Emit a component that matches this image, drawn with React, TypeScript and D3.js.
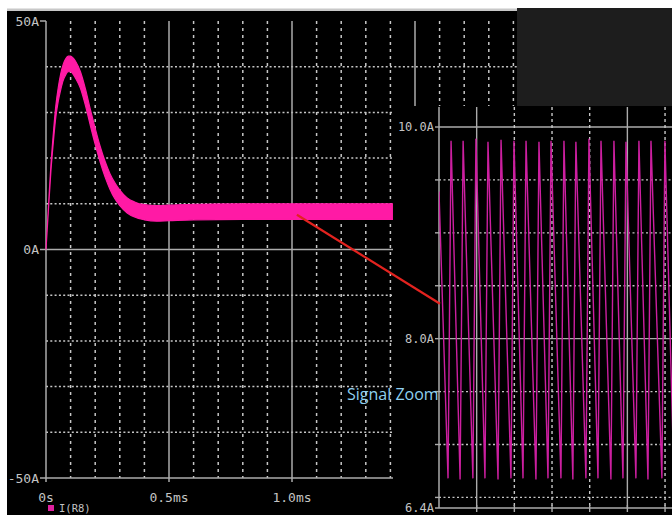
import React from "react";
import * as d3 from "d3";

// main trace: time (ms), upper and lower envelope of the ripple band (A)
const mainT = [0, 0.01, 0.02, 0.03, 0.04, 0.05, 0.06, 0.07, 0.08, 0.09, 0.1, 0.11, 0.12, 0.14, 0.16, 0.18, 0.2, 0.22, 0.24, 0.26, 0.28, 0.3, 0.33, 0.36, 0.4, 0.45, 0.5, 0.6, 0.8, 1.0, 1.2, 1.41];
const mainUpper = [0, 9.5, 18.5, 25.5, 31.5, 35.5, 38.5, 40.5, 41.7, 42.3, 42.3, 41.9, 41.2, 38.9, 35.2, 30.7, 26.5, 22.6, 19.3, 16.6, 14.6, 13.0, 11.3, 10.4, 9.8, 9.6, 9.7, 9.9, 10.0, 10.0, 10.0, 10.0];
const mainLower = [0, 8.8, 17.2, 23.6, 29.0, 32.5, 35.0, 37.0, 38.2, 38.9, 38.9, 38.4, 37.5, 35.3, 31.6, 27.2, 23.0, 19.2, 15.9, 13.2, 11.1, 9.6, 8.0, 7.1, 6.5, 6.2, 6.3, 6.5, 6.6, 6.6, 6.6, 6.6];

const mainYLabels = [50, 0, -50];
const mainXTicks = [0, 0.5, 1.0];
const mainXLabels = ["0s", "0.5ms", "1.0ms"];

// zoomed signal: peaks and valleys of the ripple
const insetStart = [0, 9.39];
const insetPeakT = [0.96, 1.92, 2.94, 3.9, 4.94, 5.97, 6.93, 7.96, 8.92, 9.95, 10.9, 11.94, 12.9, 13.93, 14.89, 15.92, 16.88, 17.99, 18.95];
const insetPeakV = [9.87, 9.87, 9.89, 9.86, 9.88, 9.87, 9.87, 9.86, 9.87, 9.87, 9.86, 9.89, 9.87, 9.87, 9.86, 9.87, 9.87, 9.87, 9.87];
const insetValleyT = [0.72, 1.68, 2.7, 3.66, 4.7, 5.73, 6.69, 7.72, 8.68, 9.71, 10.66, 11.7, 12.66, 13.69, 14.65, 15.68, 16.64, 17.75, 18.71];
const insetValleyV = [6.68, 6.67, 6.68, 6.68, 6.67, 6.68, 6.68, 6.67, 6.68, 6.68, 6.67, 6.68, 6.68, 6.67, 6.68, 6.68, 6.67, 6.68, 6.68];
const insetYLabels = [10.0, 8.0, 6.4];

const W = 672;
const H = 515;
const GRID = "#c6c6c6";
const AXIS = "#ababab";
const LABEL = "#c4c4c4";
const MONO = "'DejaVu Sans Mono', monospace";

export default function App() {
  const x = d3.scaleLinear().domain([0, 2.0]).range([46, 538]);
  const y = d3.scaleLinear().domain([-50, 50]).range([478, 21]);

  const xi = d3.scaleLinear().domain([0, 19]).range([439, 677.6]);
  const yi = d3.scaleLinear().domain([6.4, 10.0]).range([508, 127]);

  const band = d3
    .area<number>()
    .x((d, i) => x(mainT[i]))
    .y0((d, i) => y(mainLower[i]))
    .y1((d, i) => y(mainUpper[i]))
    .curve(d3.curveMonotoneX);

  const pts: [number, number][] = [[insetStart[0], insetStart[1]]];
  insetPeakT.forEach((t, i) => {
    pts.push([insetValleyT[i], insetValleyV[i]]);
    pts.push([t, insetPeakV[i]]);
  });
  const wave = d3
    .line<[number, number]>()
    .x(d => xi(d[0]))
    .y(d => yi(d[1]));

  const mainGridX = d3.range(1, 21).map(k => k / 10);
  const mainGridY = d3.range(-4, 5).map(k => k * 10);
  const insetGridX = d3.range(1, 7).map(k => k * 3);
  const insetGridY = d3.range(13, 21).map(k => k / 2);

  return (
    <svg width={W} height={H} style={{ position: "absolute", left: 0, top: 0, display: "block" }}>
      <defs>
        <clipPath id="insetClip">
          <rect x={439} y={106} width={W - 439} height={H - 106} />
        </clipPath>
      </defs>
      <rect x={0} y={0} width={W} height={H} fill="#ffffff" />
      <rect x={7} y={11} width={W - 7} height={H - 11} fill="#000000" />
      <rect x={7} y={8.5} width={510} height={2.5} fill="#c8c8c8" />

      {/* main grid */}
      {mainGridY.filter(v => v !== 0).map(v => (
        <line key={"gy" + v} x1={x(0)} x2={x(2.0)} y1={y(v)} y2={y(v)}
          stroke={GRID} strokeWidth={1.5} strokeDasharray="2,2.3" />
      ))}
      {mainGridX.map(t => {
        const major = Math.abs(t * 2 - Math.round(t * 2)) < 1e-6;
        return (
          <line key={"gx" + t} x1={x(t)} x2={x(t)} y1={y(50)} y2={y(-50)}
            stroke={major ? AXIS : GRID} strokeWidth={1.5}
            strokeDasharray={major ? undefined : "3,4"} />
        );
      })}
      <line x1={x(0)} x2={x(2.0)} y1={y(0)} y2={y(0)} stroke={AXIS} strokeWidth={1.5} />
      <line x1={x(0)} x2={x(2.0)} y1={y(-50)} y2={y(-50)} stroke={AXIS} strokeWidth={1.5} />
      <line x1={x(0)} x2={x(0)} y1={y(50)} y2={y(-50)} stroke={AXIS} strokeWidth={1.5} />
      {mainYLabels.map(v => (
        <g key={"yl" + v}>
          <line x1={x(0) - 6} x2={x(0)} y1={y(v)} y2={y(v)} stroke={AXIS} strokeWidth={1.5} />
          <text x={39} y={y(v)} dy="0.35em" textAnchor="end" fill={LABEL}
            fontFamily={MONO} fontSize={13}>{v === 0 ? "0A" : v + "A"}</text>
        </g>
      ))}
      {mainXTicks.map((t, i) => (
        <g key={"xl" + t}>
          <line x1={x(t)} x2={x(t)} y1={y(-50)} y2={y(-50) + 4} stroke={AXIS} strokeWidth={1.5} />
          <text x={x(t)} y={497} dy="0.35em" textAnchor="middle" fill={LABEL}
            fontFamily={MONO} fontSize={13}>{mainXLabels[i]}</text>
        </g>
      ))}

      {/* main trace */}
      <path d={band(mainT) || ""} fill="#ff1aa5" stroke="#ff1aa5" strokeWidth={1.2} />

      {/* legend */}
      <rect x={48} y={505} width={6} height={6} fill="#e0209f" />
      <text x={59} y={511.5} fill={LABEL} fontFamily={MONO} fontSize={10.5}>I(R8)</text>

      {/* zoomed inset */}
      <rect x={393} y={106} width={W - 393} height={H - 106} fill="#000000" />
      {insetGridY.map(v => {
        const solid = v === 10 || v === 8;
        return (
          <g key={"iy" + v}>
            <line x1={xi(0)} x2={W} y1={yi(v)} y2={yi(v)} stroke={solid ? AXIS : GRID}
              strokeWidth={1.4} strokeDasharray={solid ? undefined : "2,2.5"} />
            <line x1={xi(0) - 4} x2={xi(0)} y1={yi(v)} y2={yi(v)} stroke={AXIS} strokeWidth={1.4} />
          </g>
        );
      })}
      {insetGridX.map(t => {
        const solid = t === 3 || t === 15;
        return (
          <g key={"ix" + t}>
            <line x1={xi(t)} x2={xi(t)} y1={107} y2={yi(6.4)} stroke={solid ? AXIS : GRID}
              strokeWidth={1.4} strokeDasharray={solid ? undefined : "3,3"} />
            <line x1={xi(t)} x2={xi(t)} y1={yi(6.4) - 3} y2={yi(6.4) + 4} stroke={AXIS} strokeWidth={1.4} />
          </g>
        );
      })}
      <line x1={xi(0)} x2={xi(0)} y1={107} y2={yi(6.4)} stroke={AXIS} strokeWidth={1.5} />
      <line x1={xi(0) - 4} x2={W} y1={yi(6.4)} y2={yi(6.4)} stroke={AXIS} strokeWidth={1.5} />
      {insetYLabels.map(v => (
        <text key={"il" + v} x={434} y={yi(v)} dy="0.35em" textAnchor="end" fill={LABEL}
          fontFamily={MONO} fontSize={12}>{v.toFixed(1) + "A"}</text>
      ))}
      <path d={wave(pts) || ""} fill="none" stroke="#cc1fa0" strokeWidth={1.4}
        clipPath="url(#insetClip)" />

      {/* covered corner */}
      <rect x={517} y={8} width={W - 517} height={98} fill="#1d1d1d" />

      {/* zoom pointer */}
      <line x1={x(1.02)} y1={y(7.6)} x2={xi(0.08)} y2={yi(8.33)} stroke="#e3231f" strokeWidth={2.2} />
      <text x={347} y={400} fill="#8fd0f0" fontFamily="'Open Sans', sans-serif" fontSize={16}>Signal Zoom</text>
    </svg>
  );
}
